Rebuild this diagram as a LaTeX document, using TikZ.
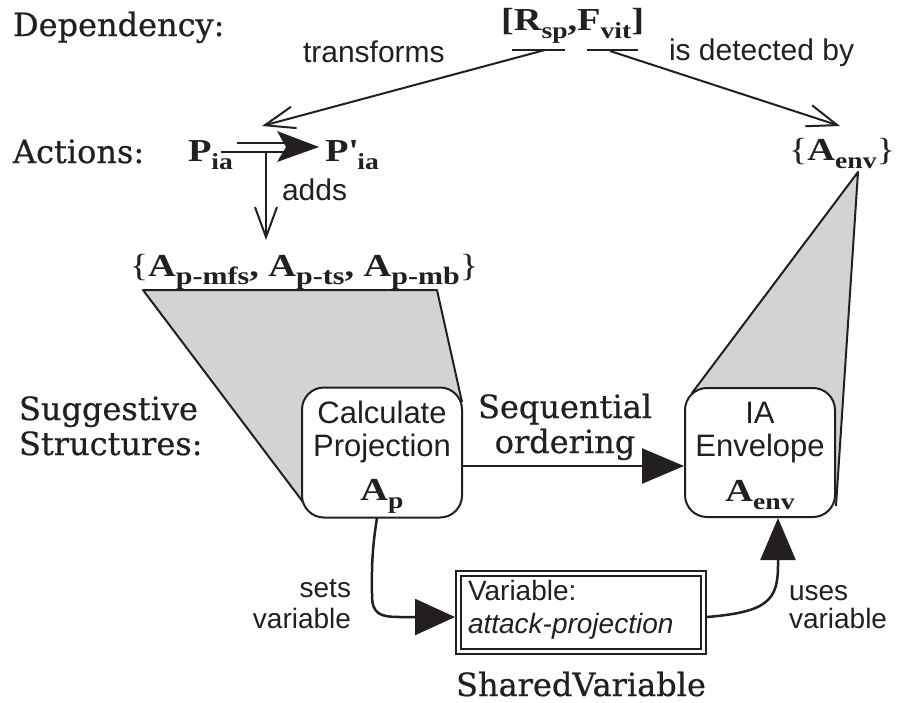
\documentclass[tikz,border=0pt]{standalone}
\usepackage{fontspec}
\setmainfont{Liberation Serif}
\newfontfamily\labfont{DejaVu Serif}[FakeBold=0.6]
\newfontfamily\mathfont{Liberation Serif}[FakeStretch=1.2]
\newfontfamily\sansfam{Liberation Sans}
\usetikzlibrary{arrows.meta}
\definecolor{ink}{RGB}{35,31,32}
\definecolor{graywedge}{RGB}{209,211,212}
\newcommand\lbl{\labfont\fontsize{32}{36}\selectfont}
\newcommand\bsym{\mathfont\bfseries\fontsize{32}{36}\selectfont}
\newcommand\brc{\mathfont\mdseries\fontsize{32}{36}\selectfont}
\newcommand\msub[1]{\raisebox{-8pt}{\fontsize{23}{23}\selectfont #1}}
\newcommand\lsub[1]{\raisebox{-8pt}{\fontsize{25}{25}\selectfont #1}}
\newcommand\boxsf{\sansfam\fontsize{31}{32}\selectfont}
\newcommand\edgesf{\sansfam\fontsize{30}{32}\selectfont}
\newcommand\smallsf{\sansfam\fontsize{28}{30}\selectfont}
\tikzset{
  txt/.style={inner sep=0pt, text=ink},
  barbtip/.style={-{Straight Barb[length=30pt,width=22pt]}},
  headtip/.style={-{Triangle[length=42pt,width=35pt]}},
  wedgeedge/.style={draw=ink, line width=2pt, line join=round},
  rbox/.style={draw=ink, fill=white, rounded corners=22pt, line width=2pt, inner sep=0pt, minimum width=160, minimum height=130},
}
\begin{document}
\begin{tikzpicture}[x=1pt, y=-1pt, line width=2pt, draw=ink]
\useasboundingbox (0,0) rectangle (899,702);

% ---- row labels
\node[txt, anchor=base west] (dep) at (12,36) {\lbl Dependency:};
\node[txt, anchor=base west] (act) at (12,163) {\lbl Actions:};
\node[txt, anchor=base west] (sug1) at (18,420) {\lbl Suggestive};
\node[txt, anchor=base west] (sug2) at (18,455) {\lbl Structures:};
\node[txt, anchor=base] (shv) at (581,696) {\lbl SharedVariable};

% ---- dependency
\node[txt, anchor=base west] (dp) at (500,30) {\bsym [R\msub{sp},F\msub{vit}]};
\coordinate (b1l) at (512,50); \coordinate (b1r) at (565,50);
\coordinate (b2l) at (587,50); \coordinate (b2r) at (638,50);
\draw (b1l) -- (b1r);
\draw (b2l) -- (b2r);
\coordinate (tf0) at (545,50);
\coordinate (tf1) at (262,126);
\coordinate (dt0) at (610,51);
\coordinate (dt1) at (840,126);
\draw[barbtip] (tf0) -- (tf1);
\draw[barbtip] (dt0) -- (dt1);
\node[txt, anchor=base west] (ltf) at (302,62) {\edgesf transforms};
\node[txt, anchor=base west] (ldt) at (668,60) {\edgesf is detected by};

% ---- actions
\node[txt, anchor=base west] (pia) at (187,161) {\bsym P\msub{ia}};
\node[txt, anchor=base west] (ppia) at (324,161) {\bsym P\textquotesingle\msub{ia}};
\coordinate (d1a) at (237,143); \coordinate (d1b) at (292,143);
\coordinate (d2a) at (221,152); \coordinate (d2b) at (292,152);
\draw (d1a) -- (d1b);
\draw (d2a) -- (d2b);
\coordinate (dtip) at (319,147);
\fill[ink] (277,131) -- (dtip) -- (277,162) -- (286,147) -- cycle;
\coordinate (ad0) at (266,152);
\coordinate (ad1) at (266,240);
\draw[barbtip] (ad0) -- (ad1);
\node[txt, anchor=base west] (ladd) at (281,200) {\edgesf adds};
\node[txt, anchor=base] (aset) at (304,276) {\brc\{\bsym A\lsub{p-mfs}, A\lsub{p-ts}, A\lsub{p-mb}\brc\}};
\node[txt, anchor=base west] (aenv) at (788,160) {\brc\{\bsym A\msub{env}\brc\}};

% ---- projection wedges
\coordinate (s1a) at (143,290); \coordinate (s1b) at (437,290);
\coordinate (s1c) at (462,402); \coordinate (s1d) at (303,502);
\fill[graywedge] (s1a) -- (s1b) -- (s1c) -- (382,452) -- (s1d) -- cycle;
\draw[wedgeedge] (s1d) -- (s1a) -- (s1b) -- (s1c);
\coordinate (s2a) at (858,172); \coordinate (s2b) at (836,506);
\coordinate (s2c) at (692,393);
\fill[graywedge] (s2a) -- (s2b) -- (760,452) -- (s2c) -- cycle;
\draw[wedgeedge] (s2c) -- (s2a) -- (s2b);

% ---- structures
\node[rbox] (cp) at (382,452.5) {};
\node[txt, anchor=base] (cp1) at (382,423) {\boxsf Calculate};
\node[txt, anchor=base] (cp2) at (382,456) {\boxsf Projection};
\node[txt, anchor=base] (cp3) at (382,500) {\bsym A\msub{p}};

\node[rbox, minimum width=150, minimum height=129] (ia) at (760,452.5) {};
\node[txt, anchor=base] (ia1) at (760,423) {\boxsf IA};
\node[txt, anchor=base] (ia2) at (760,456) {\boxsf Envelope};
\node[txt, anchor=base] (ia3) at (760,501) {\bsym A\msub{env}};

\draw[line width=2.5pt, headtip] (cp.east |- 0,466) -- (ia.west |- 0,466);
\node[txt, anchor=base] (sq1) at (565,418) {\lbl Sequential};
\node[txt, anchor=base] (sq2) at (565,453) {\lbl ordering};

% ---- shared variable
\node[draw=ink, double, double distance=3pt, line width=2pt, minimum width=245, minimum height=78, inner sep=0pt] (var) at (581,612.5) {};
\node[txt, anchor=base west] (v1) at (467,600) {\smallsf Variable:};
\node[txt, anchor=base west] (v2) at (467,633) {\smallsf\itshape attack-projection};

\coordinate (sv0) at (377,518);
\coordinate (sv1) at (455,617);
\draw[line width=2.5pt, -{Triangle[length=40pt,width=36pt]}] (sv0) .. controls (371,555) and (372,575) .. (372,595) .. controls (372,614) and (380,617) .. (400,617) -- (sv1);
\coordinate (uv0) at (707,617);
\coordinate (uv1) at (778,518);
\draw[line width=2.5pt, -{Triangle[length=42pt,width=35pt]}] (uv0) .. controls (768,612) and (778,600) .. (778,565) -- (uv1);

\node[txt, anchor=base east] (ls1) at (352,597) {\smallsf sets};
\node[txt, anchor=base east] (ls2) at (352,628) {\smallsf variable};
\node[txt, anchor=base west] (lu1) at (788,600) {\smallsf uses};
\node[txt, anchor=base west] (lu2) at (788,628) {\smallsf variable};
\end{tikzpicture}
\end{document}
